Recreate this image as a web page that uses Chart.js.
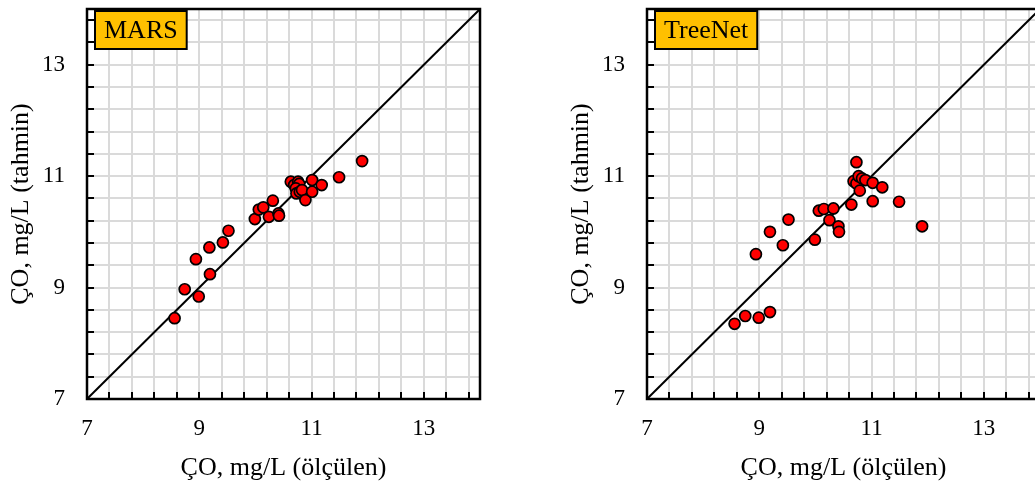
<!DOCTYPE html>
<html><head><meta charset="utf-8">
<script src="https://cdn.jsdelivr.net/npm/chart.js@4"></script>
<style>
html,body{margin:0;padding:0;background:#fff;overflow:hidden;width:1035px;height:484px;position:relative;}
#c1{position:absolute;left:0;top:0;}
#c2{position:absolute;left:560px;top:0;}
</style></head><body>
<canvas id="c1" width="500" height="484"></canvas>
<canvas id="c2" width="500" height="484"></canvas>
<script>
const axisMin = 7, axisMax = 14;
const gridValues = [7, 7.4, 7.8, 8.2, 8.6, 9, 9.4, 9.8, 10.2, 10.6, 11, 11.4, 11.8, 12.2, 12.6, 13, 13.4, 13.8, 14];
const tickLabels = [7, 9, 11, 13];
const xTitle = 'ÇO, mg/L (ölçülen)';
const yTitle = 'ÇO, mg/L (tahmin)';
const panelNames = ['MARS', 'TreeNet'];

const marsMeasured  = [8.56, 8.74, 8.99, 8.94, 9.19, 9.18, 9.42, 9.52, 9.99, 10.06, 10.14, 10.24, 10.31, 10.41, 10.42, 10.63, 10.69, 10.76, 10.78, 10.72, 10.73, 10.79, 10.83, 10.89, 11.01, 11.01, 11.18, 11.49, 11.90];
const marsPredicted = [8.45, 8.97, 8.84, 9.51, 9.24, 9.72, 9.81, 10.02, 10.23, 10.40, 10.44, 10.27, 10.56, 10.33, 10.29, 10.90, 10.84, 10.90, 10.86, 10.78, 10.69, 10.72, 10.75, 10.57, 10.93, 10.72, 10.84, 10.98, 11.27];

const treeMeasured  = [8.56, 8.75, 8.99, 9.19, 8.94, 9.19, 9.42, 9.52, 9.99, 10.06, 10.15, 10.25, 10.32, 10.41, 10.42, 10.64, 10.68, 10.73, 10.73, 10.77, 10.83, 10.89, 10.79, 11.02, 11.02, 11.19, 11.49, 11.90];
const treePredicted = [8.35, 8.49, 8.46, 8.56, 9.60, 10.00, 9.76, 10.22, 9.86, 10.38, 10.41, 10.21, 10.42, 10.10, 10.00, 10.49, 10.91, 10.87, 11.25, 11.00, 10.96, 10.93, 10.74, 10.88, 10.55, 10.80, 10.54, 10.10];

const refLineX = [7, 14];
const refLineY = [7, 14];

const FONT = '"Liberation Serif", "Times New Roman", serif';

const framePlugin = {
  id: 'frame',
  afterDatasetsDraw(chart, args, opts) {
    const {ctx, chartArea: a, scales: {x, y}} = chart;
    ctx.save();
    ctx.strokeStyle = '#000';
    ctx.lineWidth = 2;
    ctx.beginPath();
    x.ticks.forEach(t => { const px = Math.round(x.getPixelForValue(t.value)); ctx.moveTo(px, a.bottom); ctx.lineTo(px, a.bottom - 7); });
    y.ticks.forEach(t => { const py = Math.round(y.getPixelForValue(t.value)); ctx.moveTo(a.left, py); ctx.lineTo(a.left + 7, py); });
    ctx.stroke();
    ctx.lineWidth = 2.5;
    ctx.strokeRect(a.left, a.top, a.right - a.left, a.bottom - a.top);
    ctx.font = '26px ' + FONT;
    const w = ctx.measureText(opts.text).width + 18;
    const bx = a.left + 8, by = a.top + 2, bh = 38;
    ctx.fillStyle = '#FFC000';
    ctx.fillRect(bx, by, w, bh);
    ctx.lineWidth = 2;
    ctx.strokeRect(bx, by, w, bh);
    ctx.fillStyle = '#000';
    ctx.textBaseline = 'middle';
    ctx.textAlign = 'left';
    ctx.fillText(opts.text, bx + 9, by + bh / 2 + 1);
    ctx.restore();
  }
};

function makeScale(axis) {
  return {
    type: 'linear', min: axisMin, max: axisMax,
    afterBuildTicks(s) { s.ticks = gridValues.map(v => ({value: v})); },
    ticks: {
      autoSkip: false, maxRotation: 0, minRotation: 0,
      padding: axis === 'x' ? 16 : 22, color: '#000',
      font: {family: FONT, size: 23},
      callback: v => tickLabels.some(t => Math.abs(t - v) < 1e-6) ? String(Math.round(v)) : ''
    },
    grid: {color: '#dadada', lineWidth: 2, drawTicks: false},
    border: {display: false},
    title: {
      display: true, text: axis === 'x' ? xTitle : yTitle, color: '#000',
      font: {family: FONT, size: 26},
      padding: axis === 'x' ? {top: 0, bottom: 0} : {top: 6, bottom: 0}
    },
    afterFit(s) {
      if (axis === 'x') { s.height = 85; s.paddingLeft = 0; s.paddingRight = 0; }
      else { s.width = 87; s.paddingTop = 0; s.paddingBottom = 0; }
    }
  };
}

function makeChart(id, name, xs, ys) {
  const pts = xs.map((v, i) => ({x: v, y: ys[i]}));
  const line = refLineX.map((v, i) => ({x: v, y: refLineY[i]}));
  return new Chart(document.getElementById(id), {
    type: 'scatter',
    data: {
      datasets: [
        {type: 'line', data: line, borderColor: '#000', borderWidth: 2, pointRadius: 0, fill: false, order: 2},
        {data: pts, backgroundColor: '#FF0000', borderColor: '#000', borderWidth: 1.7, pointRadius: 5.5, order: 1}
      ]
    },
    options: {
      responsive: false, animation: false, devicePixelRatio: 1,
      layout: {padding: {left: 0, right: 20, top: 9, bottom: 0}},
      plugins: {legend: {display: false}, tooltip: {enabled: false}, frame: {text: name}},
      scales: {x: makeScale('x'), y: makeScale('y')}
    },
    plugins: [framePlugin]
  });
}

makeChart('c1', panelNames[0], marsMeasured, marsPredicted);
makeChart('c2', panelNames[1], treeMeasured, treePredicted);
</script>
</body></html>
